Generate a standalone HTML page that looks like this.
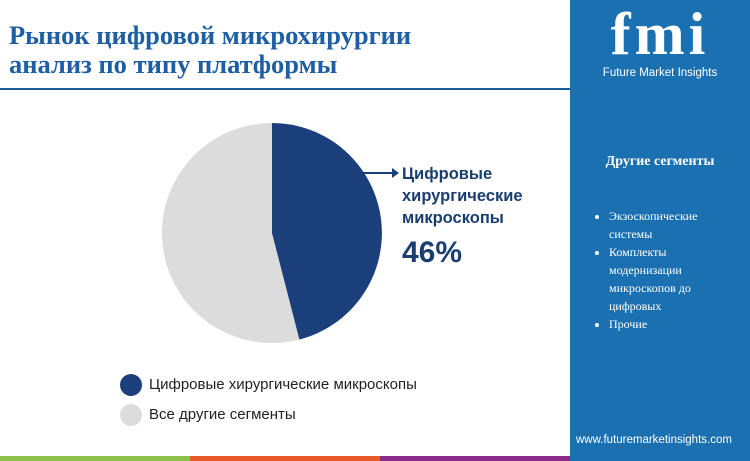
<!DOCTYPE html>
<html><head><meta charset="utf-8"><style>
body{margin:0;width:750px;height:461px;position:relative;background:#fff;overflow:hidden;font-family:"Liberation Sans",sans-serif}
.t{position:absolute;left:9px;top:21px;font-family:"Liberation Serif",serif;font-weight:bold;font-size:26.5px;line-height:29px;color:#1d5ea4}
.hl{position:absolute;left:0;top:88px;width:570px;height:2px;background:#1a5a96}
.panel{position:absolute;left:570px;top:0;width:180px;height:456px;background:#1b70b1}
.bar{position:absolute;top:456px;height:5px}
.lab{position:absolute;left:402px;top:163px;font-weight:bold;font-size:16.5px;line-height:22px;color:#1a3e70}
.pct{position:absolute;left:402px;top:236px;font-weight:bold;font-size:30px;color:#1a3e70}
.lg{position:absolute;font-size:15px;color:#222}
.dot{position:absolute;width:22px;height:22px;border-radius:50%}
</style></head><body>
<div class="t">Рынок цифровой микрохирургии<br>анализ по типу платформы</div>
<div class="hl"></div>
<svg style="position:absolute;left:0;top:0" width="570" height="456">
<circle cx="272" cy="233" r="110" fill="#dcdcdc"/>
<path d="M272 233 L272 123 A110 110 0 0 1 299.4 339.5 Z" fill="#1b3f7a"/>
<line x1="362" y1="173" x2="392" y2="173" stroke="#1b3f7a" stroke-width="2"/>
<path d="M392 168 L399 173 L392 178 Z" fill="#1b3f7a"/>
</svg>
<div class="lab">Цифровые<br>хирургические<br>микроскопы</div>
<div class="pct">46%</div>
<div class="dot" style="left:120px;top:374px;background:#1b3f7a"></div>
<div class="lg" style="left:149px;top:376px">Цифровые хирургические микроскопы</div>
<div class="dot" style="left:120px;top:404px;background:#dcdcdc"></div>
<div class="lg" style="left:149px;top:406px">Все другие сегменты</div>
<div class="panel">
<div style="position:absolute;left:0;top:2px;width:180px;text-align:center;font-family:'Liberation Serif',serif;font-weight:bold;font-size:60px;line-height:64px;color:#fff;letter-spacing:4px">fmi</div>
<div style="position:absolute;left:0;top:67px;width:180px;text-align:center;font-size:11.5px;color:#fff">Future Market Insights</div>
<div style="position:absolute;left:0;top:154px;width:180px;text-align:center;font-family:'Liberation Serif',serif;font-weight:bold;font-size:14px;color:#fff">Другие сегменты</div>
<ul style="position:absolute;left:0;top:207px;margin:0;padding-left:39px;width:100px;font-family:'Liberation Serif',serif;font-size:12px;line-height:18px;color:#fff">
<li>Экзоскопические системы</li><li>Комплекты модернизации микроскопов до цифровых</li><li>Прочие</li></ul>
<div style="position:absolute;left:6px;top:434px;font-size:11.5px;color:#fff">www.futuremarketinsights.com</div>
</div>
<div class="bar" style="left:0;width:190px;background:#8cc04b"></div>
<div class="bar" style="left:190px;width:190px;background:#e85a2a"></div>
<div class="bar" style="left:380px;width:190px;background:#8b2c8a"></div>
<div class="bar" style="left:570px;width:180px;background:#1b70b1"></div>
</body></html>
